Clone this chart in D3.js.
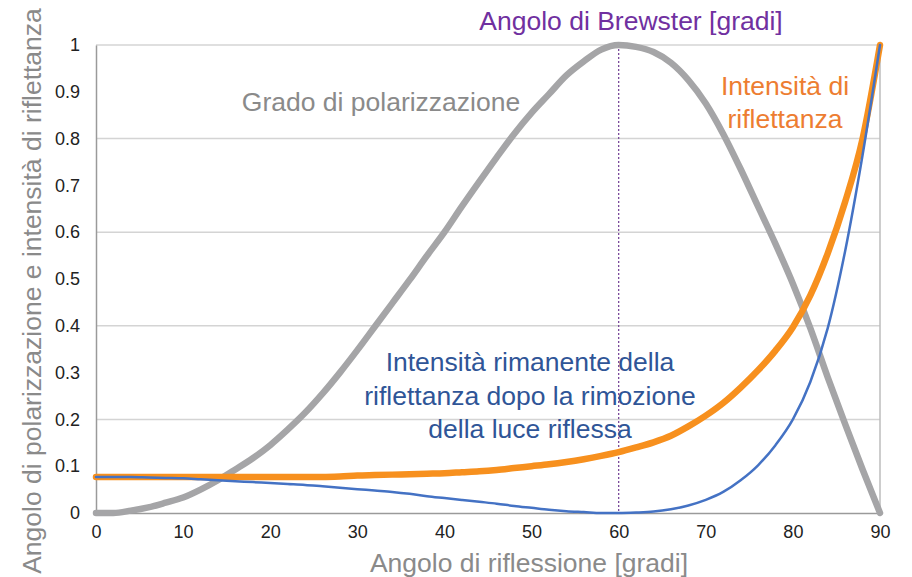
<!DOCTYPE html>
<html><head><meta charset="utf-8">
<script src="https://cdn.jsdelivr.net/npm/d3@7"></script>
<style>body{margin:0;background:#fff}svg{display:block}text{font-family:"Liberation Sans",Arial,sans-serif}</style>
</head><body><svg id="c" width="912" height="577"></svg>
<script>
const angles = [0,2,4,6,8,10,12,14,16,18,20,22,24,26,28,30,32,34,36,38,40,42,44,46,48,50,52,54,56,58,60,62,64,66,68,70,72,74,76,78,80,82,84,86,88,90];
const polarization = [0,0,0.005,0.012,0.022,0.033,0.05,0.07,0.093,0.117,0.145,0.178,0.214,0.255,0.3,0.348,0.398,0.448,0.498,0.55,0.6,0.655,0.708,0.76,0.81,0.855,0.895,0.935,0.965,0.99,1.0,0.996,0.985,0.962,0.925,0.875,0.81,0.735,0.655,0.575,0.49,0.395,0.29,0.19,0.093,0];
const reflectance = [0.077,0.077,0.077,0.077,0.077,0.077,0.077,0.077,0.077,0.077,0.077,0.077,0.077,0.077,0.078,0.08,0.081,0.082,0.083,0.084,0.085,0.087,0.089,0.092,0.096,0.1,0.104,0.109,0.115,0.122,0.13,0.14,0.151,0.165,0.185,0.208,0.235,0.268,0.305,0.347,0.397,0.465,0.555,0.665,0.8,1.0];
const remaining = [0.077,0.077,0.077,0.076,0.075,0.074,0.072,0.07,0.068,0.066,0.064,0.062,0.06,0.057,0.054,0.051,0.048,0.045,0.041,0.036,0.032,0.028,0.024,0.02,0.015,0.011,0.007,0.004,0.002,0,0,0.001,0.003,0.008,0.016,0.028,0.045,0.07,0.102,0.145,0.2,0.28,0.395,0.56,0.765,1.0];
const xTicks = [0,10,20,30,40,50,60,70,80,90];
const yTicks = [0,0.1,0.2,0.3,0.4,0.5,0.6,0.7,0.8,0.9,1];
const gridTicks = [0.2,0.4,0.6,0.8,1];
const brewsterAngle = [60];

const svg = d3.select("#c");
const x = d3.scaleLinear().domain([0,90]).range([96,880]);
const y = d3.scaleLinear().domain([0,1]).range([513,45]);

// gridlines
svg.append("g").selectAll("line").data(gridTicks).join("line")
  .attr("x1",x(0)).attr("x2",x(90)).attr("y1",d=>y(d)).attr("y2",d=>y(d))
  .attr("stroke","#d4d4d4").attr("stroke-width",1.5);
// right border
svg.append("line").attr("x1",x(90)).attr("x2",x(90)).attr("y1",y(1)).attr("y2",y(0))
  .attr("stroke","#bdbdbd").attr("stroke-width",1.5);

// axes
const xAxis = d3.axisBottom(x).tickValues(xTicks).tickSize(0).tickPadding(12).tickFormat(d3.format("d"));
const gx = svg.append("g").attr("transform",`translate(0,${y(0)})`).call(xAxis);
gx.select(".domain").attr("stroke","#9a9a9a").attr("stroke-width",1.5);
gx.selectAll("text").attr("font-size",18).attr("fill","#222").attr("font-family","Liberation Sans, Arial");

const yAxis = d3.axisLeft(y).tickValues(yTicks).tickSize(0).tickPadding(16).tickFormat(d=>d===0?"0":d===1?"1":d3.format(".1f")(d));
const gy = svg.append("g").attr("transform",`translate(${x(0)},0)`).call(yAxis);
gy.select(".domain").attr("stroke","#9a9a9a").attr("stroke-width",1.5);
gy.selectAll("text").attr("font-size",18).attr("fill","#222").attr("font-family","Liberation Sans, Arial");

// Brewster line
svg.append("g").selectAll("line").data(brewsterAngle).join("line")
  .attr("x1",d=>x(d)).attr("x2",d=>x(d)).attr("y1",y(1)).attr("y2",y(0))
  .attr("stroke","#7a4a9a").attr("stroke-width",1.3).attr("stroke-dasharray","2,2");

const mk = vals => d3.line().x((d,i)=>x(angles[i])).y(d=>y(d)).curve(d3.curveMonotoneX)(vals);

svg.append("path").attr("d",mk(polarization)).attr("fill","none")
  .attr("stroke","#a5a5a7").attr("stroke-width",6.5).attr("stroke-linecap","round");
svg.append("path").attr("d",mk(reflectance)).attr("fill","none")
  .attr("stroke","#f7901e").attr("stroke-width",6.5).attr("stroke-linecap","round");
svg.append("path").attr("d",mk(remaining)).attr("fill","none")
  .attr("stroke","#4472c4").attr("stroke-width",2.5).attr("stroke-linecap","round");

// titles
svg.append("text").attr("x",529).attr("y",572).attr("text-anchor","middle")
  .attr("font-size",26.5).attr("fill","#8a8a8a").text("Angolo di riflessione [gradi]");
svg.append("text").attr("transform","translate(41,291) rotate(-90)").attr("text-anchor","middle")
  .attr("font-size",26.5).attr("fill","#8a8a8a").text("Angolo di polarizzazione e intensità di riflettanza");
svg.append("text").attr("x",631).attr("y",30).attr("text-anchor","middle")
  .attr("font-size",26.5).attr("fill","#7030a0").text("Angolo di Brewster [gradi]");

// series labels
svg.append("text").attr("x",381).attr("y",111).attr("text-anchor","middle")
  .attr("font-size",26.5).attr("fill","#8a8a8a").text("Grado di polarizzazione");
const orangeLab = ["Intensità di","riflettanza"];
svg.append("g").selectAll("text").data(orangeLab).join("text")
  .attr("x",785).attr("y",(d,i)=>95+i*33).attr("text-anchor","middle")
  .attr("font-size",26.5).attr("fill","#ed7d31").text(d=>d);
const blueLab = ["Intensità rimanente della","riflettanza dopo la rimozione","della luce riflessa"];
svg.append("g").selectAll("text").data(blueLab).join("text")
  .attr("x",530).attr("y",(d,i)=>371+i*33.5).attr("text-anchor","middle")
  .attr("font-size",26.5).attr("fill","#2f5597").text(d=>d);
</script></body></html>
